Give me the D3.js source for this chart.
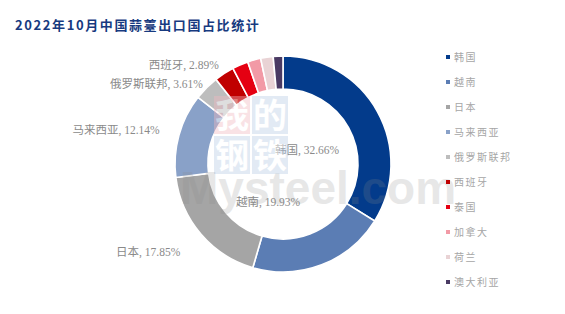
<!DOCTYPE html>
<html>
<head>
<meta charset="utf-8">
<script src="https://cdn.jsdelivr.net/npm/d3@7"></script>
<style>
  html, body { margin: 0; padding: 0; background: #fff; }
  svg { display: block; }
</style>
</head>
<body>
<svg width="565" height="314"></svg>
<script>
(function (d3) {

  // Data
  // ----
  var countries = ['韩国', '越南', '日本', '马来西亚', '俄罗斯联邦', '西班牙', '泰国', '加拿大', '荷兰', '澳大利亚'];
  var shares = [32.66, 19.93, 17.85, 12.14, 3.61, 2.89, 2.3, 1.9, 1.8, 1.4];
  var colors = ['#033b8b', '#5b7db4', '#a5a5a5', '#89a1c8', '#bdbdbd', '#c00000', '#e50012', '#f29aa6', '#e9d3d5', '#4a3a63'];
  var labelled = ['韩国', '越南', '日本', '马来西亚', '俄罗斯联邦', '西班牙'];

  var svg = d3.select('svg');
  var cx = 283, cy = 164, outerR = 108, innerR = 75;

  // Title
  // -----
  svg.append('text')
     .attr('x', 15)
     .attr('y', 30)
     .text('2022年10月中国蒜薹出口国占比统计')
     .attr('font-family', '"Noto Sans CJK SC", "DejaVu Sans", sans-serif')
     .attr('font-size', '13px')
     .attr('font-weight', 'bold')
     .attr('letter-spacing', '1.6px')
     .attr('fill', '#173a80');

  // Donut
  // -----
  var rows = countries.map(function (c, i) {
    return {name: c, value: shares[i], color: colors[i]};
  });

  var pie = d3.pie().sort(null).value(function (d) { return d.value; });
  var arc = d3.arc().innerRadius(innerR).outerRadius(outerR);
  var arcs = pie(rows);

  var g = svg.append('g').attr('transform', 'translate(' + cx + ',' + cy + ')');

  g.selectAll('path.slice')
   .data(arcs)
   .enter().append('path')
   .attr('class', 'slice')
   .attr('d', arc)
   .style('fill', function (d) { return d.data.color; })
   .style('stroke', '#fff')
   .style('stroke-width', 1.6);

  // Watermark
  // ---------
  var wm = svg.append('g').attr('opacity', 0.5);
  var logo = [['我', '#f1b9c0'], ['的', '#b9cde6'], ['钢', '#b9cde6'], ['铁', '#b9cde6']];
  logo.forEach(function (l, i) {
    var x = 214 + (i % 2) * 38, y = 96 + Math.floor(i / 2) * 40;
    wm.append('rect').attr('x', x).attr('y', y).attr('width', 36).attr('height', 38)
      .style('fill', l[1]).style('opacity', 0.8);
    wm.append('text').attr('x', x + 18).attr('y', y + 32)
      .attr('text-anchor', 'middle')
      .attr('font-family', '"Noto Sans CJK SC", sans-serif')
      .attr('font-size', '34px').attr('font-weight', 'bold')
      .attr('fill', '#fff').text(l[0]);
  });
  svg.append('text')
     .attr('x', 180).attr('y', 204)
     .text('Mysteel.com')
     .attr('font-family', '"Liberation Sans", Arial, sans-serif')
     .attr('font-size', '46px').attr('font-weight', 'bold')
     .attr('fill', '#8a8a8a').attr('opacity', 0.2);

  // Data labels
  // -----------
  // outer labels sit on a ring past the donut; the two big ones fall inside the hole
  var labelPos = {
    '西班牙':   {r: 118, anchor: 'end', dy: 4},
    '俄罗斯联邦': {r: 113, anchor: 'end', dy: 4},
    '马来西亚':  {r: 128, anchor: 'end', dy: 4},
    '日本':     {r: 135, anchor: 'end', dy: 4},
    '韩国':     {dx: 24, dy: -10, anchor: 'middle'},
    '越南':     {dx: -15, dy: 42, anchor: 'middle'}
  };

  arcs.filter(function (d) { return labelled.indexOf(d.data.name) >= 0; }).forEach(function (d) {
    var p = labelPos[d.data.name], x, y;
    if (p.r) {
      var c = d3.arc().innerRadius(p.r).outerRadius(p.r).centroid(d);
      x = c[0]; y = c[1] + p.dy;
    } else {
      x = p.dx; y = p.dy;
    }
    g.append('text')
     .attr('x', x)
     .attr('y', y)
     .attr('text-anchor', p.anchor)
     .attr('font-family', '"Liberation Serif", "Noto Sans CJK SC", serif')
     .attr('font-size', '11.5px')
     .attr('fill', '#8a8a8a')
     .text(d.data.name + ', ' + d3.format('.2f')(d.data.value) + '%');
  });

  // Legend
  // ------
  var legend = svg.append('g').attr('transform', 'translate(446,57)');
  var items = legend.selectAll('g')
    .data(rows)
    .enter().append('g')
    .attr('transform', function (d, i) { return 'translate(0,' + i * 25 + ')'; });

  items.append('rect')
       .attr('x', 0).attr('y', -2)
       .attr('width', 4).attr('height', 4)
       .style('fill', function (d) { return d.color; });

  items.append('text')
       .attr('x', 8)
       .attr('y', 4)
       .attr('font-family', '"Noto Sans CJK SC", sans-serif')
       .attr('font-size', '10px')
       .attr('letter-spacing', '1.5px')
       .attr('fill', '#a6a6a6')
       .text(function (d) { return d.name; });

})(d3);
</script>
</body>
</html>
